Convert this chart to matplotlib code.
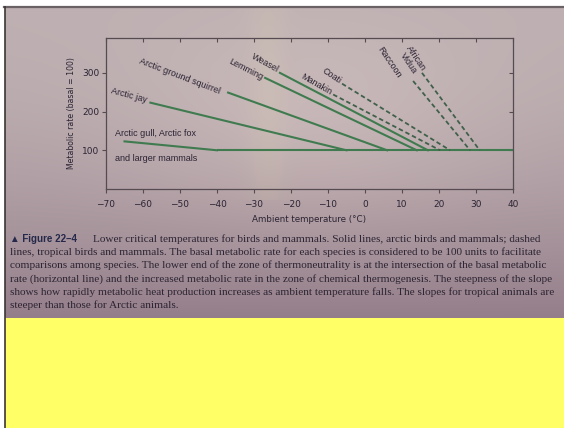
import numpy as np
import matplotlib
matplotlib.use("Agg")
import matplotlib.pyplot as plt
from matplotlib.patches import Rectangle
from matplotlib.lines import Line2D

# lower critical temperature curves: start point of the slope and where it meets basal rate
species = ['Arctic gull, Arctic fox', 'Arctic jay', 'Arctic ground squirrel', 'Lemming',
           'Weasel', 'Manakin', 'Coati', 'Raccoon', 'African\nVidua']
t_start = [-65, -58, -37, -27, -23, -8.6, -6.2, 13.0, 15.4]
rate_start = [123, 223, 249, 287, 300, 244, 272, 279, 300]
t_critical = [-40, -5, 6, 14, 17, 20.3, 23, 28.4, 31]
tropical = [False, False, False, False, False, True, True, True, True]
basal_rate = 100
basal_range = [-40, 40]

x_ticks = [-70, -60, -50, -40, -30, -20, -10, 0, 10, 20, 30, 40]
y_ticks = [100, 200, 300]

caption_lines = [
    "Lower critical temperatures for birds and mammals. Solid lines, arctic birds and mammals; dashed",
    "lines, tropical birds and mammals. The basal metabolic rate for each species is considered to be 100 units to facilitate",
    "comparisons among species. The lower end of the zone of thermoneutrality is at the intersection of the basal metabolic",
    "rate (horizontal line) and the increased metabolic rate in the zone of chemical thermogenesis. The steepness of the slope",
    "shows how rapidly metabolic heat production increases as ambient temperature falls. The slopes for tropical animals are",
    "steeper than those for Arctic animals.",
]

W, H = 564, 428
GREEN = '#3f7b4f'
INK = '#2c2433'

fig = plt.figure(figsize=(W / 100, H / 100), dpi=100)
fig.patch.set_facecolor('white')


def fx(px):
    return px / W


def fy(py):
    return 1 - py / H


# page photo background
bg = fig.add_axes([fx(5), fy(318), fx(559), (318 - 7) / H])
bg.set_axis_off()
rows, cols = 311, 559
yy, xx = np.meshgrid(np.linspace(0, 1, rows), np.linspace(0, 1, cols), indexing='ij')
top = np.array([190, 176, 178]) / 255
bottom = np.array([148, 126, 138]) / 255
mix = (yy ** 1.8)[..., None]
img = top * (1 - mix) + bottom * mix
glow = np.exp(-((xx - 0.55) ** 2) / 0.1 - ((yy - 0.4) ** 2) / 0.1)[..., None]
img = img + np.array([0.06, 0.055, 0.045]) * glow
band = np.exp(-((xx - 0.47) ** 2) / 0.0012)[..., None] * (yy < 0.62)[..., None]
img = img + band * np.array([0.015, 0.02, -0.005])
bg.imshow(np.clip(img, 0, 1), aspect='auto', extent=[0, 1, 0, 1])

# yellow sheet below the photo and the dark edges
fig.patches.append(Rectangle((fx(5), 0), 1 - fx(5), fy(318), transform=fig.transFigure,
                             facecolor='#ffff66', edgecolor='none', zorder=0))
fig.lines.append(Line2D([fx(4), 1], [fy(7), fy(7)], transform=fig.transFigure,
                        color='#6b6266', lw=1.6))
fig.lines.append(Line2D([fx(5), fx(5)], [0, fy(7)], transform=fig.transFigure,
                        color='#3d3535', lw=1.2))

# chart
ax = fig.add_axes([fx(106), fy(189), fx(407), (189 - 38) / H])
ax.set_facecolor('none')
ax.set_xlim(-70, 40)
ax.set_ylim(0, 390)
for sp in ax.spines.values():
    sp.set_color('#554b50')
    sp.set_linewidth(0.9)

ax.plot(basal_range, [basal_rate, basal_rate], color=GREEN, lw=1.5, solid_capstyle='butt')
for t0, r0, tc, trop in zip(t_start, rate_start, t_critical, tropical):
    if trop:
        ax.plot([t0, tc], [r0, basal_rate], color='#40604a', lw=1.3, dashes=(2.5, 1.6))
    else:
        ax.plot([t0, tc], [r0, basal_rate], color=GREEN, lw=1.5)

ax.set_xticks(x_ticks)
ax.set_yticks(y_ticks)
ax.tick_params(axis='both', labelsize=6.5, colors='#554b50', labelcolor=INK, length=3, width=0.8)
ax.tick_params(axis='x', pad=5)
ax.tick_params(axis='y', pad=2)
ax.tick_params(which='both', top=True, right=True, direction='out')
for t in ax.xaxis.get_major_ticks():
    t.tick2line.set_marker(3)
for t in ax.yaxis.get_major_ticks():
    t.tick2line.set_marker(0)
ax.set_xticklabels([f'\u2212{abs(v)}' if v < 0 else str(v) for v in x_ticks])

ax.set_xlabel('Ambient temperature (\u00b0C)', fontsize=6.3, color=INK, labelpad=4)
ax.set_ylabel('Metabolic rate (basal = 100)', fontsize=5.6, color=INK, labelpad=4)

lab = dict(fontsize=6.5, color=INK, family=['Liberation Sans', 'DejaVu Sans'])
ax.text(-67.6, 144, 'Arctic gull, Arctic fox', ha='left', va='center', **lab)
ax.text(-67.6, 79, 'and larger mammals', ha='left', va='center', **lab)
label_pos = {
    'Arctic jay': (-63.8, 241, -15),
    'Arctic ground squirrel': (-50, 292, -21),
    'Lemming': (-32.2, 310, -27),
    'Weasel': (-27, 326, -29),
    'Manakin': (-13.2, 269, -30),
    'Coati': (-8.9, 292, -34),
    'Raccoon': (6.5, 328, -56),
    'African\nVidua': (12.7, 331, -56),
}
for name, (tx, ty, rot) in label_pos.items():
    ax.text(tx, ty, name, ha='center', va='center', rotation=rot,
            rotation_mode='anchor', linespacing=1.0, **lab)

# figure caption
fig.text(fx(10), fy(239), '\u25b2 Figure 22\u20134', fontsize=7, fontweight='bold',
         color='#25284a', va='center', family=['Liberation Sans', 'DejaVu Sans'])
for i, line in enumerate(caption_lines):
    x0 = 93 if i == 0 else 10
    fig.text(fx(x0), fy(239 + 13.2 * i), line, fontsize=8.15, color=INK, va='center',
             family='Liberation Serif')

fig.savefig('out.png', dpi=100, facecolor=fig.get_facecolor())
